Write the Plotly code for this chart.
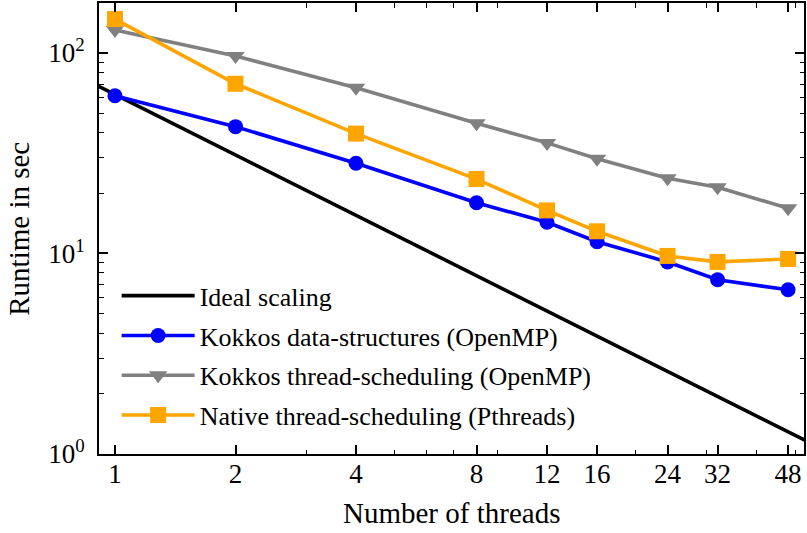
import plotly.graph_objects as go

threads = [1, 2, 4, 8, 12, 16, 24, 32, 48]
kokkos_ds = [61.2, 42.9, 28.2, 17.9, 14.3, 11.45, 9.07, 7.39, 6.59]
kokkos_ts = [130, 96.6, 67.0, 44.6, 35.6, 29.7, 23.7, 21.4, 16.8]
native_ts = [147.5, 70.2, 39.6, 23.5, 16.4, 12.9, 9.72, 9.08, 9.39]

ideal_threads = [0.9, 55]
ideal_runtime = [68.9, 1.127]

x_tickvals = [1, 2, 4, 8, 12, 16, 24, 32, 48]
x_minor = [3, 5, 6, 7, 9, 20, 30, 40, 50]
y_tickvals = [1, 10, 100]
y_ticktext = ["10<sup>0</sup>", "10<sup>1</sup>", "10<sup>2</sup>"]
y_minor = [2, 3, 4, 5, 6, 7, 8, 9, 20, 30, 40, 50, 60, 70, 80, 90]

FONT = "Liberation Serif, Times New Roman, serif"
LW = 3.6

fig = go.Figure()
fig.add_trace(go.Scatter(x=ideal_threads, y=ideal_runtime, mode="lines",
                         name="Ideal scaling", legendgroup="a",
                         line=dict(color="black", width=LW)))
fig.add_trace(go.Scatter(x=threads, y=kokkos_ds, mode="lines+markers",
                         name="Kokkos data-structures (OpenMP)", legendgroup="b",
                         line=dict(color="#0000ff", width=LW),
                         marker=dict(symbol="circle", size=15, color="#0000ff")))
fig.add_trace(go.Scatter(x=threads, y=kokkos_ts, mode="lines+markers",
                         name="Kokkos thread-scheduling (OpenMP)", legendgroup="c",
                         line=dict(color="#808080", width=LW),
                         marker=dict(symbol="triangle-down", size=16, color="#808080")))
fig.add_trace(go.Scatter(x=threads, y=native_ts, mode="lines+markers",
                         name="Native thread-scheduling (Pthreads)", legendgroup="d",
                         line=dict(color="#ffa500", width=LW),
                         marker=dict(symbol="square", size=16, color="#ffa500")))

axis_common = dict(type="log", showline=True, linecolor="black", linewidth=2,
                   mirror="ticks", ticks="inside", ticklen=9, tickwidth=1.5,
                   tickcolor="black", showgrid=False, zeroline=False,
                   tickfont=dict(family=FONT, size=27, color="black"))

fig.update_layout(
    width=807, height=533,
    margin=dict(l=99, r=1, t=2, b=79),
    paper_bgcolor="white", plot_bgcolor="white",
    font=dict(family=FONT, color="black"),
    xaxis=dict(**axis_common, range=[-0.0399, 1.721],
               tickmode="array", tickvals=x_tickvals,
               ticktext=[str(v) for v in x_tickvals],
               ticklabelstandoff=-5,
               minor=dict(tickmode="array", tickvals=x_minor, ticks="inside",
                          ticklen=4.5, tickwidth=1.2, tickcolor="black", showgrid=False)),
    yaxis=dict(**axis_common, range=[0, 2.249],
               tickmode="array", tickvals=y_tickvals, ticktext=y_ticktext,
               ticklabelstandoff=7,
               minor=dict(tickmode="array", tickvals=y_minor, ticks="inside",
                          ticklen=4.5, tickwidth=1.2, tickcolor="black", showgrid=False)),
    legend=dict(x=0.025, y=0.403, xanchor="left", yanchor="top",
                bgcolor="rgba(0,0,0,0)", borderwidth=0,
                font=dict(family=FONT, size=26, color="black"),
                tracegroupgap=3, itemwidth=73),
    showlegend=True,
    annotations=[
        dict(text="Number of threads", xref="paper", yref="paper",
             x=(452 - 99) / 707, y=-(513 - 454) / 452, xanchor="center", yanchor="middle",
             showarrow=False, font=dict(family=FONT, size=29, color="black")),
        dict(text="Runtime in sec", xref="paper", yref="paper",
             x=-(99 - 18) / 707, y=0.5, xanchor="center", yanchor="middle", textangle=-90,
             showarrow=False, font=dict(family=FONT, size=29, color="black")),
    ],
)

fig.write_html("out.html")
